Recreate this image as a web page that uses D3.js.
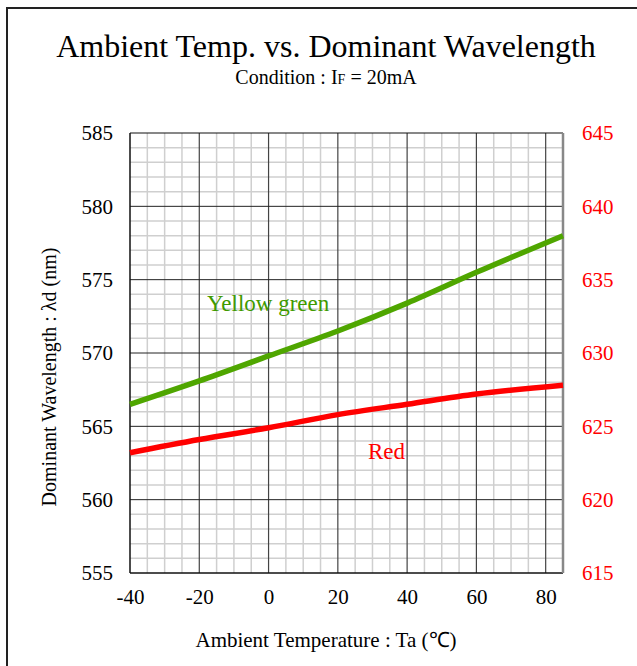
<!DOCTYPE html>
<html><head><meta charset="utf-8">
<script src="https://cdn.jsdelivr.net/npm/d3@7/dist/d3.min.js"></script>
<style>body{margin:0;background:#fff}svg{display:block}text{font-family:"Liberation Serif","Times New Roman",serif}</style>
</head><body>
<svg id="c" width="637" height="666"></svg>
<script>
const temps = [-40, -20, 0, 20, 40, 60, 85];
const yellowGreen = [566.5, 568.1, 569.8, 571.5, 573.4, 575.5, 578.0];
const red = [623.2, 624.1, 624.9, 625.8, 626.5, 627.2, 627.8];
const xTicks = [-40, -20, 0, 20, 40, 60, 80];
const yTicksL = [555, 560, 565, 570, 575, 580, 585];
const yTicksR = [615, 620, 625, 630, 635, 640, 645];

const svg = d3.select("#c");
const L = 130, R = 563, T = 133, B = 573;
const x = d3.scaleLinear().domain([-40, 85]).range([L, R]);
const yL = d3.scaleLinear().domain([555, 585]).range([B, T]);
const yR = d3.scaleLinear().domain([615, 645]).range([B, T]);
const fmt = d => String(d);

// outer border
svg.append("rect").attr("x", 7).attr("y", 8).attr("width", 660).attr("height", 680)
  .attr("fill", "none").attr("stroke", "#222").attr("stroke-width", 2);

const g = svg.append("g");
// minor grid
d3.range(-35, 85, 5).filter(v => v % 20 !== 0).forEach(v => {
  g.append("line").attr("x1", x(v)).attr("x2", x(v)).attr("y1", T).attr("y2", B)
    .attr("stroke", "#cfcfcf").attr("stroke-width", 1.5);
});
d3.range(556, 585, 1).filter(v => v % 5 !== 0).forEach(v => {
  g.append("line").attr("x1", L).attr("x2", R).attr("y1", yL(v)).attr("y2", yL(v))
    .attr("stroke", "#cfcfcf").attr("stroke-width", 1.5);
});
// major grid
xTicks.filter(v => v > -40).forEach(v => {
  g.append("line").attr("x1", x(v)).attr("x2", x(v)).attr("y1", T).attr("y2", B)
    .attr("stroke", "#444").attr("stroke-width", 1.2);
});
yTicksL.filter(v => v > 555 && v < 585).forEach(v => {
  g.append("line").attr("x1", L).attr("x2", R).attr("y1", yL(v)).attr("y2", yL(v))
    .attr("stroke", "#222").attr("stroke-width", 1);
});
// frame
g.append("line").attr("x1", L).attr("x2", R).attr("y1", T).attr("y2", T).attr("stroke", "#111").attr("stroke-width", 1.2);
g.append("line").attr("x1", L).attr("x2", R).attr("y1", B).attr("y2", B).attr("stroke", "#111").attr("stroke-width", 1.5);
g.append("line").attr("x1", L).attr("x2", L).attr("y1", T).attr("y2", B).attr("stroke", "#111").attr("stroke-width", 1.5);
g.append("line").attr("x1", R).attr("x2", R).attr("y1", T).attr("y2", B).attr("stroke", "#888").attr("stroke-width", 2.5);

// curves
const lineL = d3.line().x((d, i) => x(temps[i])).y(d => yL(d)).curve(d3.curveMonotoneX);
const lineR = d3.line().x((d, i) => x(temps[i])).y(d => yR(d)).curve(d3.curveMonotoneX);
g.append("path").attr("d", lineL(yellowGreen)).attr("fill", "none").attr("stroke", "#4fa600").attr("stroke-width", 5.5);
g.append("path").attr("d", lineR(red)).attr("fill", "none").attr("stroke", "#ff0000").attr("stroke-width", 5.5);

// axes labels
const axL = svg.append("g").attr("transform", `translate(${L},0)`)
  .call(d3.axisLeft(yL).tickValues(yTicksL).tickSize(0).tickPadding(17).tickFormat(fmt));
axL.select(".domain").remove();
axL.selectAll("text").attr("font-size", 21).attr("fill", "#000");

const axR = svg.append("g").attr("transform", `translate(${R},0)`)
  .call(d3.axisRight(yR).tickValues(yTicksR).tickSize(0).tickPadding(19).tickFormat(fmt));
axR.select(".domain").remove();
axR.selectAll("text").attr("font-size", 21).attr("fill", "#ff0000");

const axB = svg.append("g").attr("transform", `translate(0,${B})`)
  .call(d3.axisBottom(x).tickValues(xTicks).tickSize(0).tickPadding(16).tickFormat(fmt));
axB.select(".domain").remove();
axB.selectAll("text").attr("font-size", 21).attr("fill", "#000");

// titles
svg.append("text").attr("x", 326).attr("y", 57).attr("text-anchor", "middle")
  .attr("font-size", 32).text("Ambient Temp. vs. Dominant Wavelength");
const sub = svg.append("text").attr("x", 326).attr("y", 84).attr("text-anchor", "middle").attr("font-size", 20);
sub.append("tspan").text("Condition : I");
sub.append("tspan").attr("font-size", 14).text("F");
sub.append("tspan").text(" = 20mA");

svg.append("text").attr("x", 326).attr("y", 647).attr("text-anchor", "middle")
  .attr("font-size", 21).text("Ambient Temperature : Ta (℃)");
svg.append("text").attr("transform", "translate(56,377) rotate(-90)").attr("text-anchor", "middle")
  .attr("font-size", 20).text("Dominant Wavelength : λd (nm)");

svg.append("text").attr("x", 207).attr("y", 311).attr("font-size", 23).attr("fill", "#3f9a00").text("Yellow green");
svg.append("text").attr("x", 368).attr("y", 459).attr("font-size", 23).attr("fill", "#ff0000").text("Red");
</script>
</body></html>
